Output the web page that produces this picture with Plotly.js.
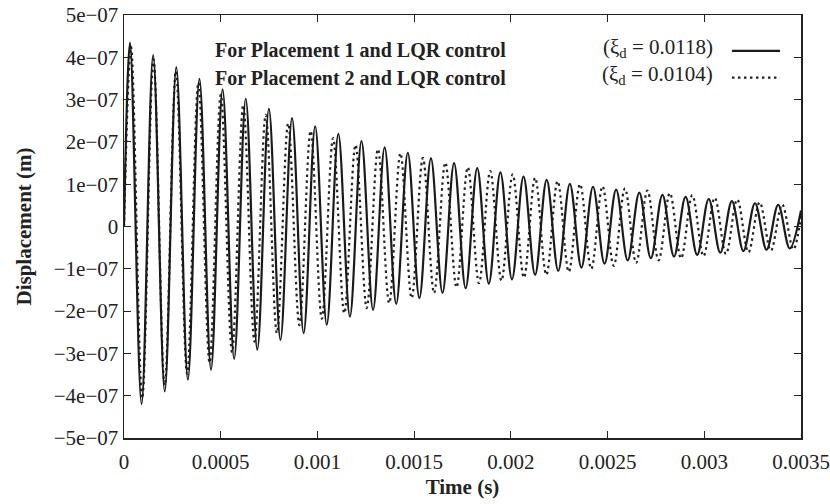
<!DOCTYPE html>
<html>
<head>
<meta charset="utf-8">
<script src="https://cdn.plot.ly/plotly-3.0.1.min.js"></script>
<style>html,body{margin:0;padding:0;background:#fff;}#chart{width:830px;height:504px;}</style>
</head>
<body>
<div id="chart"></div>
<script>
// Values (displacement in units of 1e-07 m, time in s)
const UNIT = 1e-7;

// Placement 1 (xi_d = 0.0118), solid
const p1PeakT = [0.0000310, 0.0001507, 0.0002704, 0.0003900, 0.0005097, 0.0006294, 0.0007491, 0.0008688, 0.0009884, 0.0011081, 0.0012278, 0.0013475, 0.0014672, 0.0015868, 0.0017065, 0.0018262, 0.0019459, 0.0020655, 0.0021852, 0.0023049, 0.0024246, 0.0025443, 0.0026640, 0.0027836, 0.0029033, 0.0030230, 0.0031427, 0.0032623, 0.0033820];
const p1PeakV = [4.35, 4.05, 3.77, 3.49, 3.24, 3.02, 2.78, 2.56, 2.37, 2.19, 2.02, 1.87, 1.74, 1.61, 1.50, 1.38, 1.28, 1.18, 1.10, 1.01, 0.94, 0.87, 0.80, 0.75, 0.70, 0.65, 0.60, 0.55, 0.51];
const p1TroughT = [0.0000908, 0.0002105, 0.0003302, 0.0004498, 0.0005695, 0.0006892, 0.0008089, 0.0009286, 0.0010482, 0.0011679, 0.0012876, 0.0014073, 0.0015270, 0.0016466, 0.0017663, 0.0018860, 0.0020057, 0.0021253, 0.0022450, 0.0023647, 0.0024844, 0.0026041, 0.0027238, 0.0028434, 0.0029631, 0.0030828, 0.0032025, 0.0033221, 0.0034418];
const p1TroughV = [-4.20, -3.90, -3.62, -3.39, -3.13, -2.91, -2.68, -2.52, -2.32, -2.13, -1.97, -1.83, -1.69, -1.57, -1.46, -1.35, -1.25, -1.14, -1.05, -0.97, -0.88, -0.80, -0.75, -0.71, -0.67, -0.62, -0.58, -0.55, -0.52];
const p1Start = [0, 0];
const p1End = [0.0035, 0.38];

// Placement 2 (xi_d = 0.0104), dotted
const p2PeakT = [0.0000362, 0.0001523, 0.0002683, 0.0003844, 0.0005005, 0.0006166, 0.0007326, 0.0008487, 0.0009648, 0.0010809, 0.0011969, 0.0013130, 0.0014291, 0.0015452, 0.0016612, 0.0017773, 0.0018934, 0.0020095, 0.0021255, 0.0022416, 0.0023577, 0.0024738, 0.0025898, 0.0027059, 0.0028220, 0.0029381, 0.0030541, 0.0031702, 0.0032863, 0.0034024];
const p2PeakV = [4.25, 3.95, 3.67, 3.40, 3.12, 2.87, 2.64, 2.44, 2.26, 2.09, 1.93, 1.83, 1.73, 1.62, 1.51, 1.40, 1.31, 1.23, 1.15, 1.07, 1.00, 0.95, 0.90, 0.85, 0.79, 0.74, 0.68, 0.64, 0.57, 0.52];
const p2TroughT = [0.0000942, 0.0002103, 0.0003263, 0.0004424, 0.0005585, 0.0006746, 0.0007906, 0.0009067, 0.0010228, 0.0011389, 0.0012549, 0.0013710, 0.0014871, 0.0016032, 0.0017192, 0.0018353, 0.0019514, 0.0020675, 0.0021835, 0.0022996, 0.0024157, 0.0025318, 0.0026478, 0.0027639, 0.0028800, 0.0029961, 0.0031121, 0.0032282, 0.0033443, 0.0034604];
const p2TroughV = [-4.06, -3.75, -3.48, -3.22, -2.97, -2.72, -2.52, -2.33, -2.18, -2.05, -1.93, -1.81, -1.69, -1.57, -1.44, -1.34, -1.28, -1.21, -1.14, -1.07, -1.00, -0.93, -0.86, -0.80, -0.75, -0.70, -0.65, -0.61, -0.57, -0.54];
const p2Start = [0, 0];
const p2End = [0.0035, 0.25];

// Axis ticks
const xTickVals = [0, 0.0005, 0.001, 0.0015, 0.002, 0.0025, 0.003, 0.0035];
const xTickText = ["0", "0.0005", "0.001", "0.0015", "0.002", "0.0025", "0.003", "0.0035"];
const yTickVals = [5e-7, 4e-7, 3e-7, 2e-7, 1e-7, 0, -1e-7, -2e-7, -3e-7, -4e-7, -5e-7];
const yTickText = ["5e\u221207", "4e\u221207", "3e\u221207", "2e\u221207", "1e\u221207", "0", "\u22121e\u221207", "\u22122e\u221207", "\u22123e\u221207", "\u22124e\u221207", "\u22125e\u221207"];

const seriesNames = ["(\u03BE<sub>d</sub> = 0.0118)", "(\u03BE<sub>d</sub> = 0.0104)"];
const captions = ["For Placement 1 and LQR control", "For Placement 2 and LQR control"];
const xTitle = "Time (s)";
const yTitle = "Displacement (m)";

function buildSeries(start, pT, pV, tT, tV, end) {
  const pts = [[start[0], start[1]]];
  for (let i = 0; i < pT.length; i++) pts.push([pT[i], pV[i]]);
  for (let i = 0; i < tT.length; i++) pts.push([tT[i], tV[i]]);
  pts.push([end[0], end[1]]);
  pts.sort((a, b) => a[0] - b[0]);
  return {x: pts.map(p => p[0]), y: pts.map(p => p[1] * UNIT)};
}

const s1 = buildSeries(p1Start, p1PeakT, p1PeakV, p1TroughT, p1TroughV, p1End);
const s2 = buildSeries(p2Start, p2PeakT, p2PeakV, p2TroughT, p2TroughV, p2End);

const FONT = "Liberation Serif, Times New Roman, serif";
const INK = "#222";

const traces = [
  {x: s2.x, y: s2.y, type: "scatter", mode: "lines", name: "(\u03BEd = 0.0104)",
   line: {color: INK, width: 2.2, dash: "2.5px,3.5px", shape: "spline", smoothing: 1}, showlegend: false},
  {x: s1.x, y: s1.y, type: "scatter", mode: "lines", name: "(\u03BEd = 0.0118)",
   line: {color: "#1a1a1a", width: 2.2, shape: "spline", smoothing: 1}, showlegend: false}
];

const layout = {
  width: 830, height: 504,
  margin: {l: 124, r: 29, t: 15, b: 66},
  paper_bgcolor: "#fff", plot_bgcolor: "#fff",
  font: {family: FONT, size: 21, color: INK},
  showlegend: false,
  xaxis: {
    range: [0, 0.0035], tickvals: xTickVals, ticktext: xTickText,
    ticks: "inside", ticklen: 7, tickwidth: 1, tickcolor: INK,
    showline: true, linecolor: INK, linewidth: 1.5, mirror: "ticks",
    showgrid: false, zeroline: false, ticklabelstandoff: 4,
    tickfont: {family: FONT, size: 21, color: INK},
    title: {text: xTitle, font: {family: FONT, size: 21, color: INK, weight: 700}, standoff: 6}
  },
  yaxis: {
    range: [-5e-7, 5e-7], tickvals: yTickVals, ticktext: yTickText,
    ticks: "inside", ticklen: 7, tickwidth: 1, tickcolor: INK,
    showline: true, linecolor: INK, linewidth: 1.5, mirror: "ticks",
    showgrid: false, zeroline: false,
    tickfont: {family: FONT, size: 21, color: INK},
    title: {text: yTitle, font: {family: FONT, size: 21, color: INK, weight: 700}, standoff: 16}
  },
  annotations: [
    {xref: "paper", yref: "paper", x: 0.349, y: 0.917, text: captions[0], showarrow: false,
     font: {family: FONT, size: 20, color: INK, weight: 700}, xanchor: "center", yanchor: "middle"},
    {xref: "paper", yref: "paper", x: 0.349, y: 0.851, text: captions[1], showarrow: false,
     font: {family: FONT, size: 20, color: INK, weight: 700}, xanchor: "center", yanchor: "middle"},
    {xref: "paper", yref: "paper", x: 0.873, y: 0.922, text: seriesNames[0], showarrow: false,
     font: {family: FONT, size: 21, color: INK}, xanchor: "right", yanchor: "middle"},
    {xref: "paper", yref: "paper", x: 0.873, y: 0.857, text: seriesNames[1], showarrow: false,
     font: {family: FONT, size: 21, color: INK}, xanchor: "right", yanchor: "middle"}
  ],
  shapes: [
    {type: "line", xref: "paper", yref: "paper", x0: 0.898, x1: 0.969, y0: 0.915, y1: 0.915,
     line: {color: "#1a1a1a", width: 2.2}},
    {type: "line", xref: "paper", yref: "paper", x0: 0.898, x1: 0.969, y0: 0.852, y1: 0.852,
     line: {color: INK, width: 2.2, dash: "2.5px,3.5px"}}
  ]
};

Plotly.newPlot("chart", traces, layout, {staticPlot: true, displayModeBar: false});
</script>
</body>
</html>
